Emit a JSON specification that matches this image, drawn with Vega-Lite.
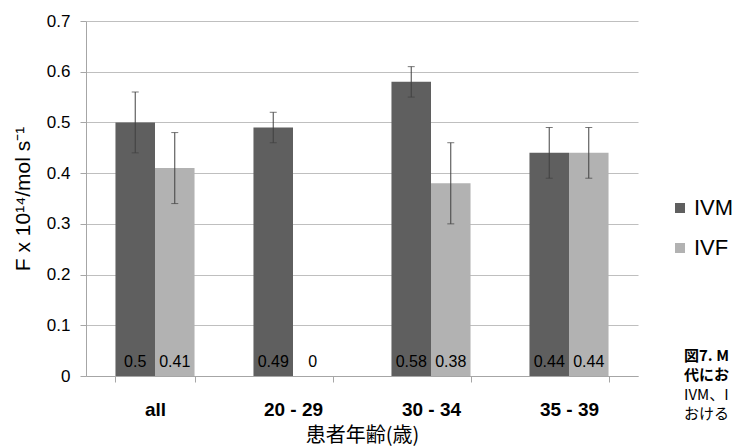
{
  "$schema": "https://vega.github.io/schema/vega-lite/v6.json",
  "width": 552,
  "height": 355,
  "autosize": "none",
  "padding": {"left": 86, "top": 21, "right": 100, "bottom": 72},
  "background": "white",
  "config": {
    "font": "Liberation Sans",
    "view": {"stroke": null}
  },
  "title": {
    "text": ["図7. M", "代にお"],
    "subtitle": ["IVM、I", "おける"],
    "orient": "top",
    "anchor": "start",
    "frame": "group",
    "dx": 598,
    "dy": 414,
    "font": "Noto Sans CJK JP",
    "fontSize": 15,
    "fontWeight": "bold",
    "lineHeight": 19,
    "subtitleFont": "Noto Sans CJK JP",
    "subtitleFontSize": 15,
    "subtitleLineHeight": 19,
    "subtitlePadding": 5,
    "color": "#000000",
    "subtitleColor": "#000000"
  },
  "data": {
    "values": [
      {"age": "all", "type": "IVM", "value": 0.5, "lo": 0.44, "hi": 0.56},
      {"age": "all", "type": "IVF", "value": 0.41, "lo": 0.34, "hi": 0.48},
      {"age": "20 - 29", "type": "IVM", "value": 0.49, "lo": 0.46, "hi": 0.52},
      {"age": "20 - 29", "type": "IVF", "value": 0, "lo": null, "hi": null},
      {"age": "30 - 34", "type": "IVM", "value": 0.58, "lo": 0.55, "hi": 0.61},
      {"age": "30 - 34", "type": "IVF", "value": 0.38, "lo": 0.30, "hi": 0.46},
      {"age": "35 - 39", "type": "IVM", "value": 0.44, "lo": 0.39, "hi": 0.49},
      {"age": "35 - 39", "type": "IVF", "value": 0.44, "lo": 0.39, "hi": 0.49}
    ]
  },
  "encoding": {
    "x": {
      "field": "age",
      "type": "nominal",
      "sort": ["all", "20 - 29", "30 - 34", "35 - 39"],
      "scale": {"paddingInner": 0.427, "paddingOuter": 0.2135},
      "axis": {
        "title": "患者年齢(歳)",
        "titleFont": "Noto Sans CJK JP",
        "titleFontSize": 20,
        "titleFontWeight": "normal",
        "titleColor": "#000000",
        "titlePadding": 6,
        "labelAngle": 0,
        "labelFontSize": 19,
        "labelFontWeight": "bold",
        "labelColor": "#000000",
        "labelPadding": 18,
        "tickBand": "extent",
        "tickSize": 6,
        "tickColor": "#a6a6a6",
        "domainColor": "#a6a6a6",
        "grid": false
      }
    },
    "xOffset": {"field": "type", "type": "nominal", "sort": ["IVM", "IVF"], "scale": {"paddingInner": 0, "paddingOuter": 0}}
  },
  "layer": [
    {
      "mark": {"type": "bar"},
      "encoding": {
        "y": {
          "field": "value",
          "type": "quantitative",
          "scale": {"domain": [0, 0.7]},
          "axis": {
            "title": "F x 10¹⁴/mol s⁻¹",
            "titleFontSize": 21,
            "titleFontWeight": "normal",
            "titleColor": "#000000",
            "titlePadding": 13,
            "values": [0, 0.1, 0.2, 0.3, 0.4, 0.5, 0.6, 0.7],
            "format": ".1~f",
            "labelFontSize": 17,
            "labelColor": "#000000",
            "labelPadding": 10,
            "tickSize": 6,
            "tickColor": "#a6a6a6",
            "domainColor": "#a6a6a6",
            "gridColor": "#bfbfbf"
          }
        },
        "color": {
          "field": "type",
          "type": "nominal",
          "sort": ["IVM", "IVF"],
          "scale": {"domain": ["IVM", "IVF"], "range": ["#5f5f5f", "#b2b2b2"]},
          "legend": {
            "title": null,
            "orient": "none",
            "legendX": 583,
            "legendY": 176,
            "symbolType": "square",
            "symbolSize": 100,
            "symbolStrokeWidth": 0,
            "labelFontSize": 22,
            "labelColor": "#000000",
            "labelOffset": 3,
            "rowPadding": 18
          }
        }
      }
    },
    {
      "mark": {"type": "rule", "color": "#404040", "strokeWidth": 1},
      "transform": [{"filter": "datum.lo != null"}],
      "encoding": {
        "y": {"field": "lo", "type": "quantitative"},
        "y2": {"field": "hi"}
      }
    },
    {
      "mark": {"type": "tick", "color": "#404040", "thickness": 1, "size": 7},
      "transform": [{"filter": "datum.lo != null"}],
      "encoding": {
        "y": {"field": "lo", "type": "quantitative"}
      }
    },
    {
      "mark": {"type": "tick", "color": "#404040", "thickness": 1, "size": 7},
      "transform": [{"filter": "datum.lo != null"}],
      "encoding": {
        "y": {"field": "hi", "type": "quantitative"}
      }
    },
    {
      "mark": {"type": "text", "baseline": "alphabetic", "dy": -9, "fontSize": 16, "color": "#000000"},
      "encoding": {
        "y": {"datum": 0, "type": "quantitative"},
        "text": {"field": "value", "type": "quantitative"}
      }
    }
  ]
}
